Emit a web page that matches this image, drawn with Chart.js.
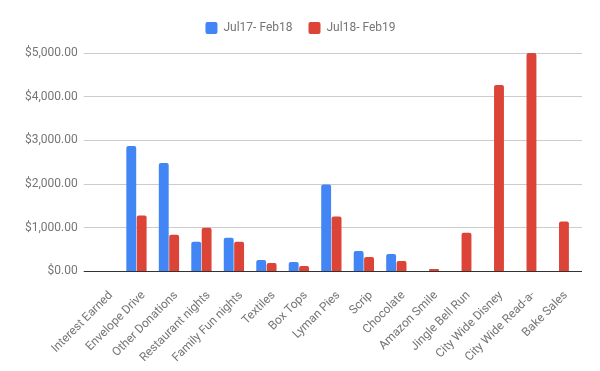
<!DOCTYPE html>
<html><head><meta charset="utf-8">
<script src="https://cdn.jsdelivr.net/npm/chart.js@4"></script>
<style>html,body{margin:0;padding:0;background:#fff}#wrap{width:600px;height:371px}</style>
</head><body><div id="wrap"><canvas id="c"></canvas></div>
<script>
const categories = ["Interest Earned","Envelope Drive","Other Donations","Restaurant nights","Family Fun nights","Textiles","Box Tops","Lyman Pies","Scrip","Chocolate","Amazon Smile","Jingle Bell Run","City Wide Disney","City Wide Read-a-","Bake Sales"];
const seriesNames = ["Jul17- Feb18","Jul18- Feb19"];
const jul17Feb18 = [0,2870,2484,678,771,262,215,1990,470,400,0,0,0,0,0];
const jul18Feb19 = [0,1280,840,1002,680,192,123,1257,331,238,53,887,4266,5000,1141];
const yTicks = [0,1000,2000,3000,4000,5000];

Chart.defaults.font.family = "Roboto";
Chart.defaults.font.size = 12;
Chart.defaults.color = "#757575";

const legendSpacer = {
  id: 'legendSpacer',
  beforeInit(chart) {
    const orig = chart.legend.fit;
    chart.legend.fit = function () { orig.bind(chart.legend)(); this.height += 9; };
  }
};

const gridColor = (ctx) => ctx.tick && ctx.tick.value === 0 ? '#333333' : '#cccccc';
const setTicks = (s) => { s.ticks = yTicks.map(v => ({value: v})); };

new Chart(document.getElementById('c'), {
  type: 'bar',
  data: {
    labels: categories,
    datasets: [
      {label: seriesNames[0], data: jul17Feb18, backgroundColor: '#4285f4', borderRadius: 2, categoryPercentage: 0.64, barPercentage: 0.95},
      {label: seriesNames[1], data: jul18Feb19, backgroundColor: '#db4437', borderRadius: 2, categoryPercentage: 0.64, barPercentage: 0.95}
    ]
  },
  plugins: [legendSpacer],
  options: {
    responsive: true, maintainAspectRatio: false, animation: false,
    layout: {padding: {top: 6, right: 18, bottom: -3, left: 19}},
    plugins: {
      legend: {position: 'top', labels: {boxWidth: 12, boxHeight: 12, padding: 16, useBorderRadius: true, borderRadius: 2, color: '#757575'}},
      tooltip: {enabled: false}
    },
    scales: {
      x: {
        grid: {display: false},
        border: {display: false},
        ticks: {maxRotation: 45, minRotation: 45, autoSkip: false, color: '#757575', padding: 9, labelOffset: 7}
      },
      y: {
        min: 0, max: 5000,
        afterBuildTicks: setTicks,
        border: {display: false},
        grid: {color: gridColor, tickLength: 4},
        ticks: {
          padding: 6, color: '#757575',
          callback: (v) => '$' + Number(v).toLocaleString('en-US', {minimumFractionDigits: 2, maximumFractionDigits: 2})
        }
      },
      y2: {
        position: 'right', min: 0, max: 5000,
        afterBuildTicks: setTicks,
        border: {display: false},
        grid: {color: gridColor, tickLength: 7, drawOnChartArea: false},
        ticks: {display: false}
      }
    }
  }
});
</script></body></html>
